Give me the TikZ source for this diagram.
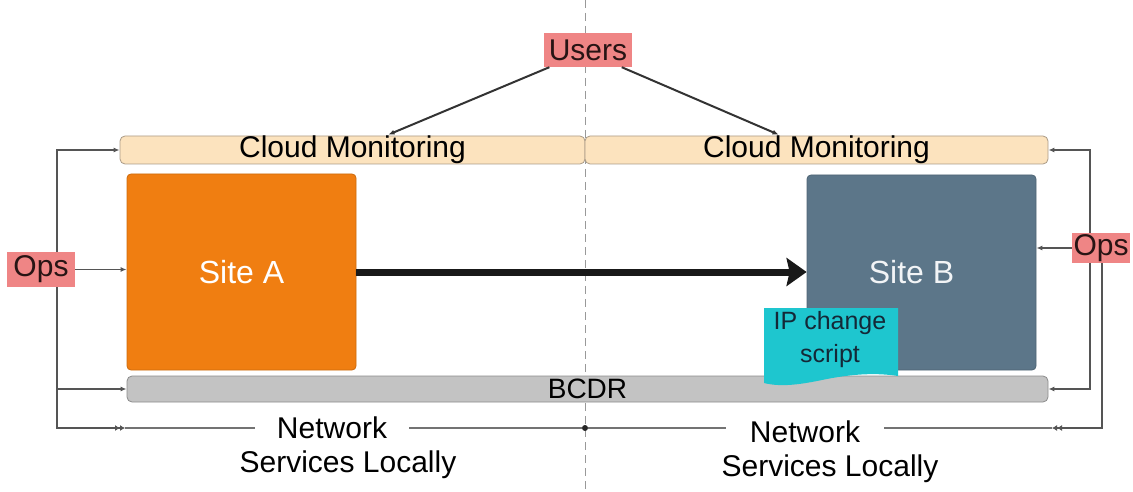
\documentclass[tikz,border=0pt]{standalone}
\usepackage{fontspec}
\setmainfont{Liberation Sans}
\usetikzlibrary{arrows.meta,calc}
\definecolor{peach}{RGB}{252,227,190}
\definecolor{peachedge}{RGB}{170,155,135}
\definecolor{siteorange}{RGB}{240,126,17}
\definecolor{siteslate}{RGB}{92,118,137}
\definecolor{bargray}{RGB}{195,195,195}
\definecolor{baredge}{RGB}{140,140,140}
\definecolor{scriptcyan}{RGB}{30,198,207}
\definecolor{labelpink}{RGB}{239,133,133}
\definecolor{linegray}{RGB}{85,85,85}
\definecolor{darktext}{RGB}{40,20,20}
\tikzset{
  bar/.style={draw=peachedge, line width=0.8pt, fill=peach, rounded corners=5pt,
    inner sep=0pt, font=\fontsize{30}{36}\selectfont, text=black},
  sitebox/.style={inner sep=0pt, rounded corners=4pt, line width=0.8pt,
    font=\fontsize{32}{38}\selectfont},
  pinklabel/.style={fill=labelpink, inner sep=0pt, text=darktext,
    font=\fontsize{30}{36}\selectfont},
  conn/.style={draw=linegray, line width=1.2pt},
  tip/.style={-{Latex[length=6pt,width=5pt]}},
  dbltip/.style={-{Latex[length=5pt,width=6pt]Latex[length=5pt,width=6pt]}},
  nettext/.style={font=\fontsize{30}{36}\selectfont, text=black, inner sep=0pt},
  dot/.style={circle, fill=black!85, inner sep=0pt, minimum size=6pt},
}
\begin{document}
\begin{tikzpicture}[x=1pt, y=-1pt]
\useasboundingbox (0,0) rectangle (1133,492);
% dashed divider
\coordinate (dtop) at (585,0);
\coordinate (dbot) at (585,492);
\draw[black!40, line width=1pt, dash pattern=on 8pt off 5pt] (dtop) -- (dbot);

% cloud monitoring bars
\node[bar, minimum width=465pt, minimum height=28pt] (cmL) at (352.5,150) {Cloud Monitoring};
\node[bar, minimum width=463pt, minimum height=28pt] (cmR) at (816.5,150) {Cloud Monitoring};

% sites
\node[sitebox, fill=siteorange, draw=siteorange!85!black, minimum width=229pt, minimum height=196pt, text=white] (siteA) at (241.5,272) {Site A};
\node[sitebox, fill=siteslate, draw=siteslate!85!black, minimum width=229pt, minimum height=195pt, text=white!92!siteslate] (siteB) at (921.5,272.5) {\hspace*{-20pt}Site B};

% thick replication arrow
\draw[line width=7pt, draw=black!90, -{Stealth[length=20pt,width=28pt,inset=3pt]}] (siteA.east) -- (siteA.east -| siteB.west);

% BCDR bar
\node[draw=baredge, line width=0.8pt, fill=bargray, rounded corners=5pt, inner sep=0pt,
  minimum width=921pt, minimum height=26pt, font=\fontsize{28}{34}\selectfont] (bcdr) at (587.5,389) {BCDR};

% IP change script (document shape)
\fill[scriptcyan] (764,308) -- (898,308) -- (898,376)
  .. controls (872,372) and (846,375) .. (822,380)
  .. controls (798,385) and (780,387) .. (764,383) -- cycle;
\node[align=center, inner sep=0pt, text={rgb,255:red,20;green,40;blue,55},
  font=\fontsize{25}{33}\selectfont] (ipc) at (830,340) {IP change\\script};

% Users
\node[pinklabel, minimum width=88pt, minimum height=34pt] (users) at (588,50) {Users};
\draw[conn, line width=2pt, draw=black!80, tip] (users.-156) -- ($(cmL.north)+(36,-1)$);
\draw[conn, line width=2pt, draw=black!80, tip] (users.-27) -- ($(cmR.north)+(-38,-1)$);

% network services line
\coordinate (tipL) at (125,428);
\coordinate (tipR) at (1052,428);
\node[dot] (mid) at (585,428) {};
\draw[conn, draw=black!55] (tipL) -- (mid) -- (tipR);
\node[nettext, fill=white, inner xsep=22pt, inner ysep=2pt] (netL1) at (332,428) {Network};
\node[nettext] (netL2) at (348,465) {Services Locally};
\node[nettext, fill=white, inner xsep=24pt, inner ysep=2pt] (netR1) at (805,432) {Network};
\node[nettext] (netR2) at (830,469) {Services Locally};

% Ops left connectors
\coordinate (vL) at (57,270);
\draw[conn, tip] (vL) |- (cmL.west);
\draw[conn, tip] (vL) |- (bcdr.west);
\draw[conn, dbltip] (vL) |- (tipL);
\node[pinklabel, minimum width=68pt, minimum height=35pt] (opsL) at (41,269.5) {Ops};
\draw[conn, tip] (opsL.east) -- (opsL.east -| siteA.west);

% Ops right connectors
\coordinate (vR) at (1090,248);
\coordinate (vR2) at (1102,248);
\draw[conn, tip] (vR) |- (cmR.east);
\draw[conn, tip] (vR) |- (bcdr.east);
\draw[conn, dbltip] (vR2) |- (tipR);
\node[pinklabel, minimum width=58pt, minimum height=30pt] (opsR) at (1101,248) {Ops};
\draw[conn, tip] (opsR.west) -- (opsR.west -| siteB.east);
\end{tikzpicture}
\end{document}
